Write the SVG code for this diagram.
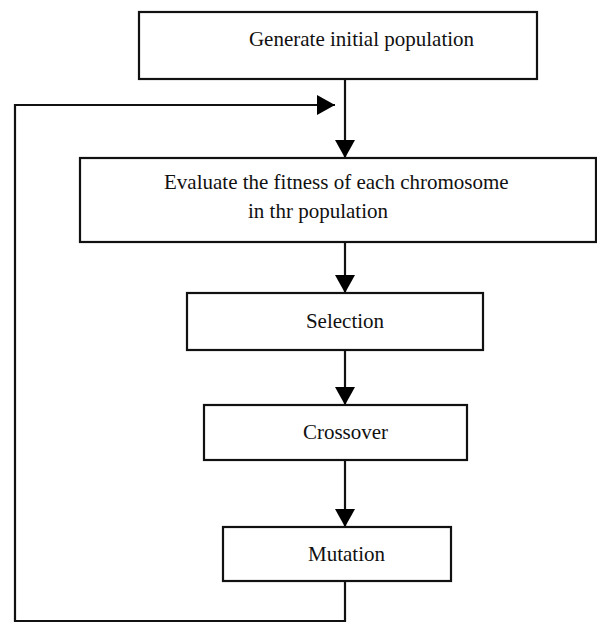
<svg xmlns="http://www.w3.org/2000/svg" width="597" height="624" viewBox="0 0 597 624">
<defs>
<marker id="ah" markerUnits="userSpaceOnUse" markerWidth="18" markerHeight="20" viewBox="0 0 18 20" refX="18" refY="10" orient="auto">
<path d="M0,0 L18,10 L0,20 z" fill="#000"/>
</marker>
</defs>
<style>
.box{fill:#fff;stroke:#111;stroke-width:2.2}
.lbl{font-family:"Liberation Serif","Times New Roman",serif;font-size:21px;fill:#111}
.c{fill:none;stroke:#111;stroke-width:2.2}
</style>
<rect width="597" height="624" fill="#fff"/>
<g id="connectors">
<line class="c" x1="345" y1="79" x2="345" y2="158" marker-end="url(#ah)"/>
<line class="c" x1="345" y1="242" x2="345" y2="293" marker-end="url(#ah)"/>
<line class="c" x1="345" y1="350" x2="345" y2="405" marker-end="url(#ah)"/>
<line class="c" x1="345" y1="460" x2="345" y2="527" marker-end="url(#ah)"/>
<polyline class="c" points="345,581 345,621 15,621 15,105 335,105" marker-end="url(#ah)"/>
</g>
<g id="generate">
<rect class="box" x="139" y="12" width="398" height="67"/>
<text class="lbl" x="361.5" y="46" text-anchor="middle">Generate initial population</text>
</g>
<g id="evaluate">
<rect class="box" x="80" y="158" width="516" height="84"/>
<text class="lbl" x="164" y="189">Evaluate the fitness of each chromosome</text>
<text class="lbl" x="248" y="218">in thr population</text>
</g>
<g id="selection">
<rect class="box" x="187" y="293" width="296" height="57"/>
<text class="lbl" x="345" y="328" text-anchor="middle">Selection</text>
</g>
<g id="crossover">
<rect class="box" x="204" y="405" width="263" height="55"/>
<text class="lbl" x="345.5" y="439" text-anchor="middle">Crossover</text>
</g>
<g id="mutation">
<rect class="box" x="223" y="527" width="228" height="54"/>
<text class="lbl" x="346.5" y="561" text-anchor="middle">Mutation</text>
</g>
</svg>
